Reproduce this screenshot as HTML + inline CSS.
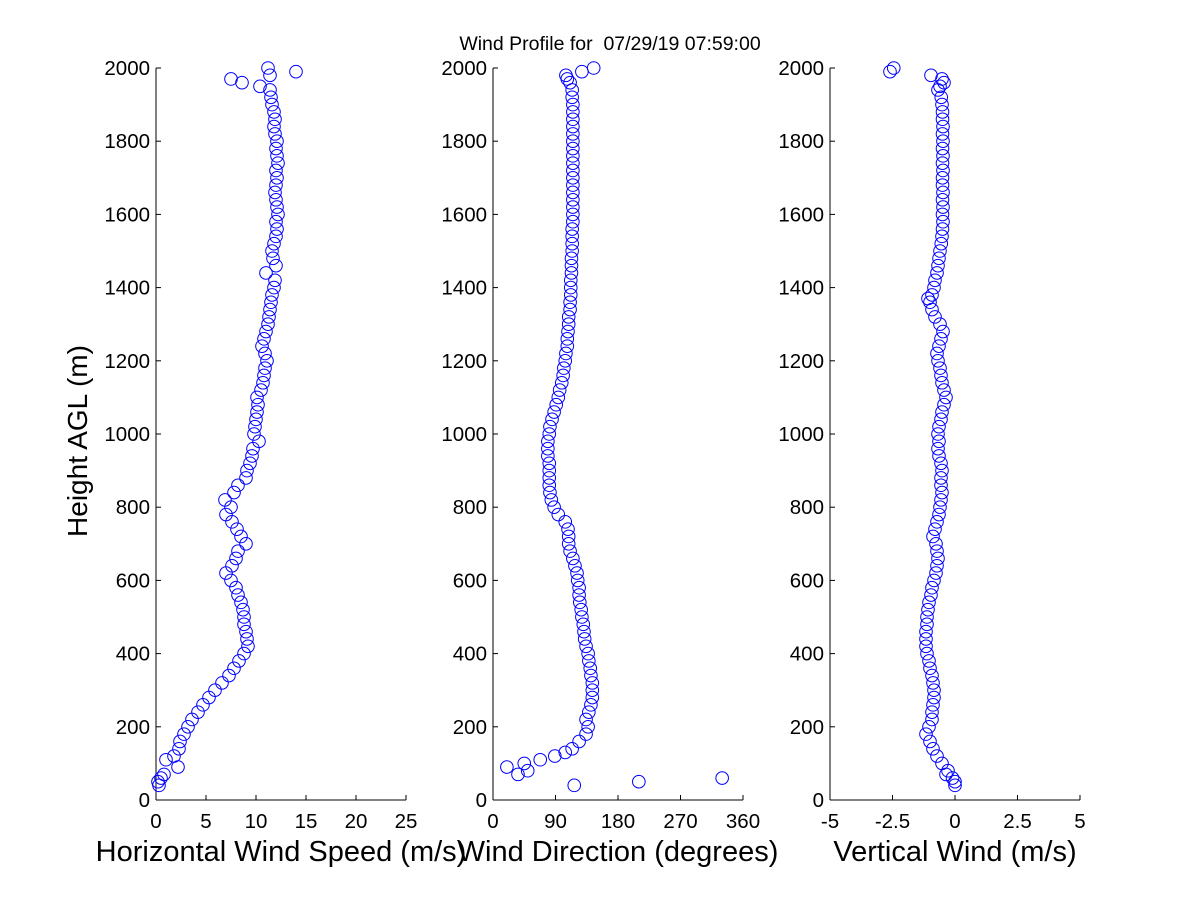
<!DOCTYPE html>
<html><head><meta charset="utf-8"><style>
body{margin:0;background:#fff}
svg text{font-family:"Liberation Sans",Arial,sans-serif;fill:#000}
</style></head><body>
<svg id="chart" width="1200" height="900" xmlns="http://www.w3.org/2000/svg">
<rect width="1200" height="900" fill="#fff"/>
<text x="610" y="50" font-size="19.5" text-anchor="middle" style="white-space:pre">Wind Profile for  07/29/19 07:59:00</text>
<g id="plots"></g>
</svg>
<script>
const speedHeights=[40,50,60,70,90,110,120,140,160,180,200,220,240,260,280,300,320,340,360,380,400,420,440,460,480,500,520,540,560,580,600,620,640,660,680,700,720,740,760,780,800,820,840,860,880,900,920,940,960,980,1000,1020,1040,1060,1080,1100,1120,1140,1160,1180,1200,1220,1240,1260,1280,1300,1320,1340,1360,1380,1400,1420,1440,1460,1480,1500,1520,1540,1560,1580,1600,1620,1640,1660,1680,1700,1720,1740,1760,1780,1800,1820,1840,1860,1880,1900,1920,1940,1950,1960,1970,1980,1990,2000];
const speedValues=[0.3,0.2,0.5,0.8,2.2,1.0,1.8,2.3,2.4,2.8,3.2,3.6,4.2,4.7,5.3,5.9,6.6,7.3,7.8,8.3,8.8,9.2,9.1,9.0,8.8,8.8,8.7,8.5,8.2,8.0,7.5,7.0,7.6,8.0,8.2,9.0,8.5,8.1,7.6,7.0,7.5,6.9,7.8,8.2,9.0,9.1,9.4,9.6,9.7,10.3,9.8,9.9,10.0,10.1,10.2,10.1,10.5,10.7,10.8,10.9,11.1,10.9,10.6,10.8,11.0,11.2,11.3,11.4,11.5,11.6,11.8,11.9,11.0,12.0,11.7,11.6,11.8,12.0,12.1,12.0,12.2,12.1,12.0,11.9,12.0,12.1,12.0,12.2,12.1,12.0,12.1,11.9,11.8,11.9,11.8,11.6,11.5,11.4,10.4,8.6,7.5,11.4,14.0,11.2];
const dirHeights=[40,50,60,70,80,90,100,110,120,130,140,160,180,200,220,240,260,280,300,320,340,360,380,400,420,440,460,480,500,520,540,560,580,600,620,640,660,680,700,720,740,760,780,800,820,840,860,880,900,920,940,960,980,1000,1020,1040,1060,1080,1100,1120,1140,1160,1180,1200,1220,1240,1260,1280,1300,1320,1340,1360,1380,1400,1420,1440,1460,1480,1500,1520,1540,1560,1580,1600,1620,1640,1660,1680,1700,1720,1740,1760,1780,1800,1820,1840,1860,1880,1900,1920,1940,1960,1970,1980,1990,2000];
const dirValues=[117,210,330,36,50,20,45,68,89,104,114,124,134,137,134,138,141,143,143,143,141,140,138,137,134,132,131,130,128,127,125,124,124,122,121,118,115,111,109,109,108,104,94,88,84,82,81,81,81,81,79,79,79,81,82,85,88,91,94,96,99,101,102,104,105,107,107,108,109,109,111,111,112,112,112,113,113,113,114,114,114,114,115,115,115,115,115,115,115,115,115,115,115,115,115,115,115,115,115,114,114,111,107,105,128,145];
const vertHeights=[40,50,60,70,80,100,120,140,160,180,200,220,240,260,280,300,320,340,360,380,400,420,440,460,480,500,520,540,560,580,600,620,640,660,680,700,720,740,760,780,800,820,840,860,880,900,920,940,960,980,1000,1020,1040,1060,1080,1100,1120,1140,1160,1180,1200,1220,1240,1260,1280,1300,1320,1340,1360,1370,1380,1400,1420,1440,1460,1480,1500,1520,1540,1560,1580,1600,1620,1640,1660,1680,1700,1720,1740,1760,1780,1800,1820,1840,1860,1880,1900,1920,1940,1950,1960,1970,1980,1990,2000];
const vertValues=[0,0,-0.1,-0.36,-0.28,-0.52,-0.72,-0.88,-1.0,-1.16,-1.04,-0.92,-0.92,-0.88,-0.84,-0.84,-0.88,-0.92,-1.0,-1.04,-1.12,-1.16,-1.16,-1.16,-1.12,-1.12,-1.08,-1.04,-0.96,-0.92,-0.84,-0.76,-0.72,-0.68,-0.72,-0.76,-0.88,-0.8,-0.72,-0.64,-0.6,-0.56,-0.52,-0.56,-0.56,-0.52,-0.56,-0.64,-0.68,-0.64,-0.68,-0.64,-0.56,-0.52,-0.44,-0.36,-0.44,-0.52,-0.56,-0.6,-0.68,-0.72,-0.64,-0.56,-0.48,-0.6,-0.8,-0.92,-1.0,-1.08,-0.92,-0.84,-0.8,-0.72,-0.68,-0.64,-0.6,-0.55,-0.52,-0.5,-0.48,-0.5,-0.48,-0.5,-0.48,-0.5,-0.5,-0.48,-0.5,-0.48,-0.5,-0.48,-0.5,-0.48,-0.5,-0.5,-0.52,-0.55,-0.68,-0.6,-0.44,-0.52,-0.96,-2.6,-2.45];
const yTicks=[0,200,400,600,800,1000,1200,1400,1600,1800,2000];
const speedTicks=[0,5,10,15,20,25];
const dirTicks=[0,90,180,270,360];
const vertTicks=[-5,-2.5,0,2.5,5];
const vertTickLabels=["-5","-2.5","0","2.5","5"];

const NS="http://www.w3.org/2000/svg";
const g=document.getElementById('plots');
const Y0=800,Y1=68;
function yS(h){return Y0-(h/2000)*(Y0-Y1);}
function mk(tag,attrs,parent){const e=document.createElementNS(NS,tag);for(const k in attrs)e.setAttribute(k,attrs[k]);(parent||g).appendChild(e);return e;}
function panel(name,x0,x1,dmin,dmax,ticks,labels,hs,vs,xlabel,ylabel){
  const p=mk('g',{});
  
  
  const xS=v=>x0+(v-dmin)/(dmax-dmin)*(x1-x0);
  const ya=mk('line',{x1:x0,y1:Y0,x2:x0,y2:Y1,stroke:'#000','stroke-width':1},p);
  
  
  const xa=mk('line',{x1:x0,y1:Y0,x2:x1,y2:Y0,stroke:'#000','stroke-width':1},p);
  
  
  yTicks.forEach(t=>{
    const y=yS(t);
    mk('line',{x1:x0,y1:y,x2:x0+5,y2:y,stroke:'#000'},p);
    const tx=mk('text',{x:x0-6,y:y+7,'font-size':20.5,'text-anchor':'end'},p);
    tx.textContent=t;
    
    
  });
  ticks.forEach((t,i)=>{
    const x=xS(t);
    mk('line',{x1:x,y1:Y0,x2:x,y2:Y0-5,stroke:'#000'},p);
    const tx=mk('text',{x:x,y:Y0+28,'font-size':20.5,'text-anchor':'middle'},p);
    tx.textContent=labels[i];
    
    
  });
  hs.forEach((h,i)=>{
    const c=mk('circle',{cx:xS(vs[i]),cy:yS(h),r:6.3,fill:'none',stroke:'#0000ff','stroke-width':1},p);
    
    
  });
  const xl=mk('text',{x:(x0+x1)/2,y:861,'font-size':29,'text-anchor':'middle'},p);
  xl.textContent=xlabel;
  
  
  if(ylabel){
    const yl=mk('text',{x:0,y:0,'font-size':28,'text-anchor':'middle',transform:'translate(87,441) rotate(-90)'},p);
    yl.textContent=ylabel;
    
    
  }
}
panel('speed',156,406,0,25,speedTicks,speedTicks.map(String),speedHeights,speedValues,'Horizontal Wind Speed (m/s)','Height AGL (m)');
panel('direction',493,743,0,360,dirTicks,dirTicks.map(String),dirHeights,dirValues,'Wind Direction (degrees)',null);
panel('vertical',830,1080,-5,5,vertTicks,vertTickLabels,vertHeights,vertValues,'Vertical Wind (m/s)',null);
</script>
</body></html>
